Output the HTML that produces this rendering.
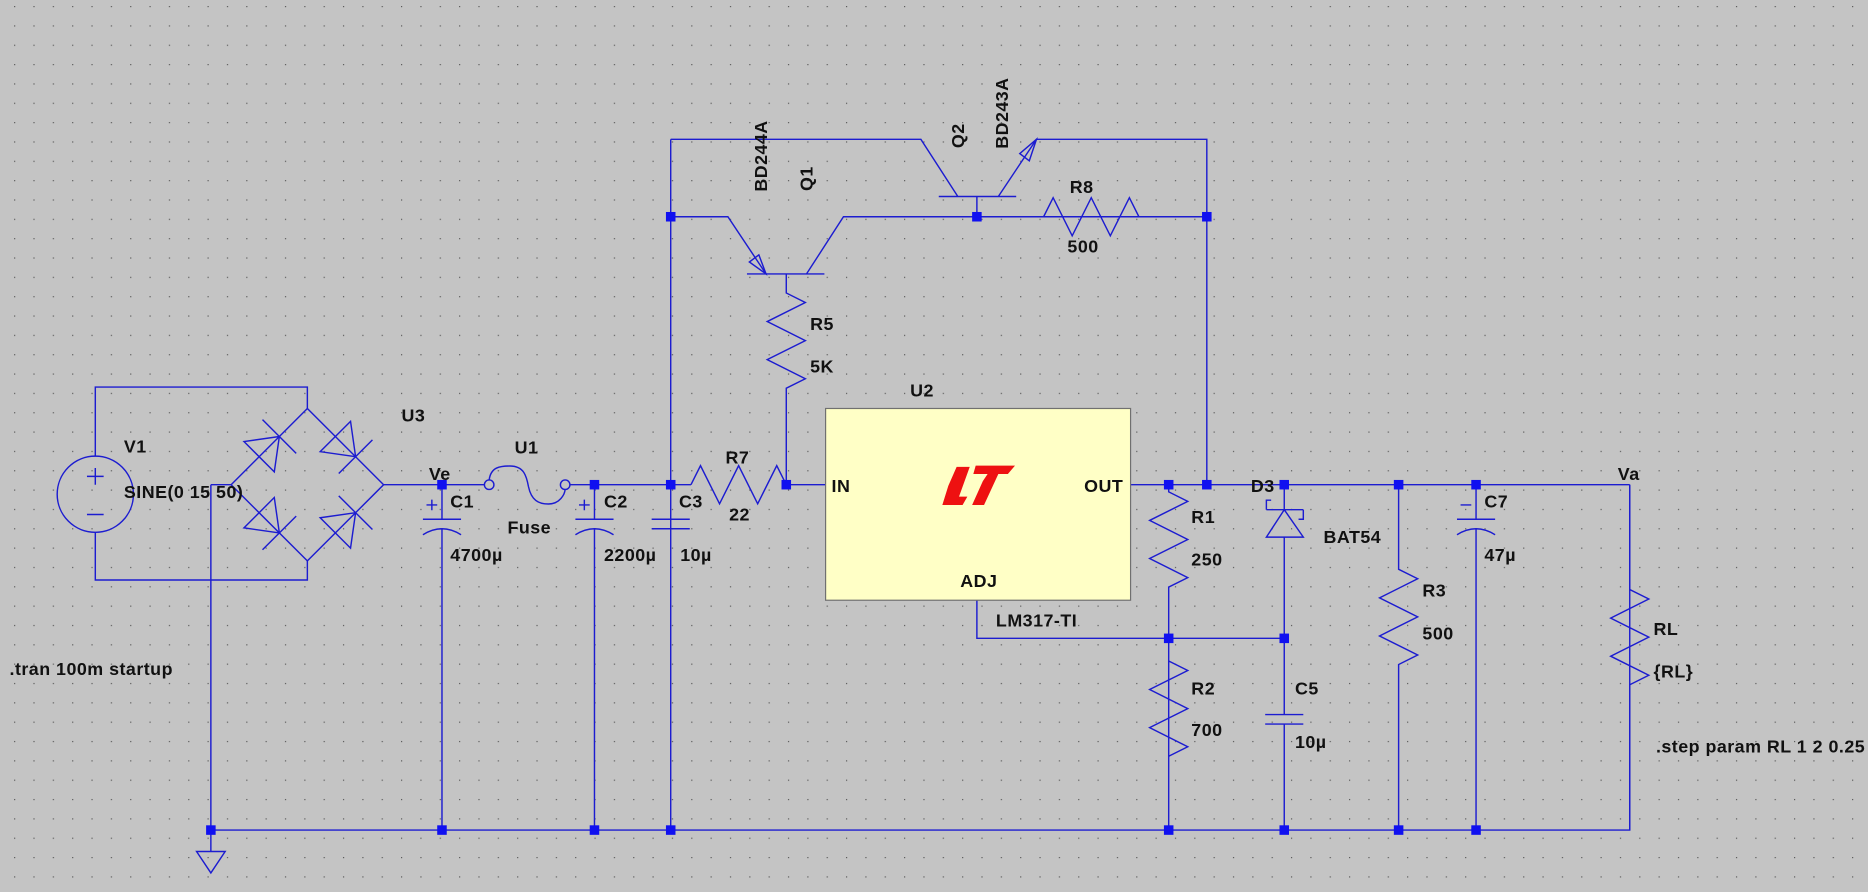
<!DOCTYPE html>
<html><head><meta charset="utf-8"><style>
html,body{margin:0;padding:0;background:#c4c4c4;overflow:hidden}
svg{display:block}
text{font-family:"Liberation Sans",sans-serif;font-weight:bold;font-size:15px;letter-spacing:0.4px;fill:#111}
</style></head><body>
<svg width="1868" height="892" viewBox="0 0 1568 749" preserveAspectRatio="none" xmlns="http://www.w3.org/2000/svg">
<defs>
<pattern id="g" x="11.8" y="5.04" width="16.24" height="16.24" patternUnits="userSpaceOnUse">
<rect x="0" y="0" width="1" height="1" fill="#5a5a5a"/>
</pattern>
</defs>
<rect width="1568" height="749" fill="#c4c4c4"/>
<rect width="1568" height="749" fill="url(#g)"/>

<g stroke="#1c1cd0" stroke-width="1.2" fill="none">
<circle cx="80" cy="415" r="32"/>
<path d="M73,400h14M80,393v14M73,432h14"/>
<path d="M80,383V325H258V343M80,447V487H258V471"/>
<path d="M258,343L322,407L258,471L194,407Z"/>
<path d="M177,407H194M177,407V697M322,407H371"/>
<g transform="translate(226,375) rotate(-45)"><path d="M-12,-18L12,0L-12,18Z M12,-20V20"/></g>
<g transform="translate(290,375) rotate(45)"><path d="M-12,-18L12,0L-12,18Z M12,-20V20"/></g>
<g transform="translate(226,439) rotate(45)"><path d="M-12,-18L12,0L-12,18Z M12,-20V20"/></g>
<g transform="translate(290,439) rotate(-45)"><path d="M-12,-18L12,0L-12,18Z M12,-20V20"/></g>
<path d="M177,697V715M165,715H189L177,733Z"/>
<path d="M177,697H1368V407"/>
<path d="M371,407V436M355,436H387M355,449Q371,439 387,449M371,444V697M358,424h9M362.5,419.5v9"/>
<path d="M371,407H406.6M478.4,407H499"/>
<circle cx="410.6" cy="407" r="4"/><circle cx="474.4" cy="407" r="4"/>
<path d="M410.6,403 C412,392 420,391.3 428,391.3 C440,391.3 442,400 443.6,408.6 C446,420 452,423.2 460.4,423.2 C470,423.2 474,415 474.4,411"/>
<path d="M499,407H580M499,407V436M483,436H515M483,449Q499,439 515,449M499,444V697M486,424h9M490.5,419.5v9"/>
<path d="M563,117V697M547,436H579M547,444H579"/>
<path d="M580,407L588,391L604,423L620,391L636,423L652,391L660,407H693"/>
<path d="M563,182H611L643,230M627,230H692M677,230L708,182H1013"/>
<path d="M637,214L643,230L629,220Z"/>
<path d="M660,230V246L676,254L644,270L676,286L644,302L676,318L660,326V407"/>
<path d="M563,117H773L804,165M788,165H853M820,165V182M838,165L870,117H1013V407"/>
<path d="M870,117L856,129L864,135Z"/>
<path d="M876,182L884,166L900,198L916,166L932,198L948,166L956,182"/>
<path d="M949,407H1368"/>
<path d="M820,504V536H1078"/>
<path d="M981,407V413L997,421L965,437L997,453L965,469L997,485L981,493V697"/>
<path d="M981,555L997,563L965,579L997,595L965,611L997,627L981,635"/>
<path d="M1078,407V428M1063,428H1094M1063,428V420H1067M1094,428V436H1090M1078,428L1063,451H1094Z M1078,451V600M1062,600H1094M1062,608H1094M1078,608V697"/>
<path d="M1174,407V478L1190,486L1158,502L1190,518L1158,534L1190,550L1174,558V697"/>
<path d="M1239,407V436M1223,436H1255M1223,449Q1239,439 1255,449M1239,444V697M1226,424h9"/>
<path d="M1368,407V495L1384,503L1352,519L1384,535L1352,551L1384,567L1368,575V697"/>
</g>

<g fill="#1010f0">
<rect x="367" y="403" width="8" height="8"/><rect x="495" y="403" width="8" height="8"/>
<rect x="559" y="403" width="8" height="8"/><rect x="656" y="403" width="8" height="8"/>
<rect x="559" y="178" width="8" height="8"/><rect x="816" y="178" width="8" height="8"/>
<rect x="1009" y="178" width="8" height="8"/>
<rect x="977" y="403" width="8" height="8"/><rect x="1009" y="403" width="8" height="8"/>
<rect x="1074" y="403" width="8" height="8"/><rect x="1170" y="403" width="8" height="8"/>
<rect x="1235" y="403" width="8" height="8"/>
<rect x="977" y="532" width="8" height="8"/><rect x="1074" y="532" width="8" height="8"/>
<rect x="173" y="693" width="8" height="8"/><rect x="367" y="693" width="8" height="8"/>
<rect x="495" y="693" width="8" height="8"/><rect x="559" y="693" width="8" height="8"/>
<rect x="977" y="693" width="8" height="8"/><rect x="1074" y="693" width="8" height="8"/>
<rect x="1170" y="693" width="8" height="8"/><rect x="1235" y="693" width="8" height="8"/>
</g>

<rect x="693" y="343" width="256" height="161" fill="#ffffc6" stroke="#707070" stroke-width="1"/>
<g fill="#ee1111">
<polygon points="803,392 814,392 805,417 812,417 808,424 791,424 796,408"/>
<polygon points="819,391 852,391 846,398 838,398 826,424 816,424 825,404 829,398 817,398"/>
</g>

<text x="337" y="354">U3</text>
<text x="104" y="380">V1</text>
<text x="104" y="418">SINE(0 15 50)</text>
<text x="360" y="403">Ve</text>
<text x="378" y="426">C1</text>
<text x="378" y="471">4700µ</text>
<text x="432" y="381">U1</text>
<text x="426" y="448">Fuse</text>
<text x="507" y="426">C2</text>
<text x="507" y="471">2200µ</text>
<text x="570" y="426">C3</text>
<text x="571" y="471">10µ</text>
<text x="609" y="389">R7</text>
<text x="612" y="437">22</text>
<text x="698" y="413">IN</text>
<text x="910" y="413">OUT</text>
<text x="764" y="333">U2</text>
<text x="806" y="493">ADJ</text>
<text x="836" y="526">LM317-TI</text>
<text x="680" y="277">R5</text>
<text x="680" y="313">5K</text>
<text x="898" y="162">R8</text>
<text x="896" y="212">500</text>
<text x="1000" y="439">R1</text>
<text x="1000" y="475">250</text>
<text x="1050" y="413">D3</text>
<text x="1111" y="456">BAT54</text>
<text x="1000" y="583">R2</text>
<text x="1000" y="618">700</text>
<text x="1087" y="583">C5</text>
<text x="1087" y="628">10µ</text>
<text x="1194" y="501">R3</text>
<text x="1194" y="537">500</text>
<text x="1246" y="426">C7</text>
<text x="1246" y="471">47µ</text>
<text x="1358" y="403">Va</text>
<text x="1388" y="533">RL</text>
<text x="1388" y="569">{RL}</text>
<text x="8" y="567">.tran 100m startup</text>
<text x="1390" y="632">.step param RL 1 2 0.25</text>
<text transform="translate(644,131) rotate(-90)" text-anchor="middle">BD244A</text>
<text transform="translate(682,150) rotate(-90)" text-anchor="middle">Q1</text>
<text transform="translate(809,114) rotate(-90)" text-anchor="middle">Q2</text>
<text transform="translate(846,95) rotate(-90)" text-anchor="middle">BD243A</text>
</svg>
</body></html>
